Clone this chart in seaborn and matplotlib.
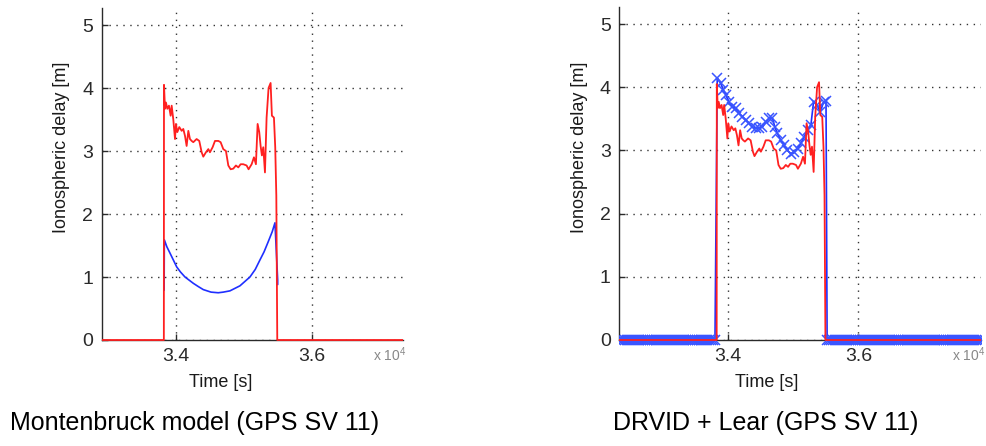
import numpy as np
import matplotlib
matplotlib.use("Agg")
import matplotlib.pyplot as plt
from matplotlib import font_manager
from matplotlib.patches import Rectangle
import seaborn as sns

# ---- GPS SV 11, slant ionospheric delay over one pass (time of day in s) ----
# measured delay (dual-frequency), zero outside the tracking window
measured_t = [32300, 33826, 33828, 33843, 33857, 33877, 33901, 33926, 33941, 33965,
              33990, 34004, 34024, 34053, 34088, 34112, 34137, 34161, 34186, 34210,
              34235, 34259, 34308, 34347, 34382, 34406, 34445, 34480, 34504, 34543,
              34578, 34627, 34661, 34700, 34739, 34774, 34808, 34847, 34886, 34921,
              34955, 34994, 35043, 35072, 35117, 35151, 35180, 35205, 35229, 35249,
              35268, 35288, 35313, 35337, 35366, 35396, 35415, 35445, 35464, 35480,
              35494, 37900]
measured_delay = [0.0, 0.0, 4.05, 3.67, 3.77, 3.67, 3.72, 3.56, 3.72, 3.50,
                  3.19, 3.43, 3.30, 3.38, 3.32, 3.35, 3.24, 3.08, 3.32, 3.19,
                  3.16, 3.14, 3.19, 3.16, 2.98, 2.91, 2.98, 3.03, 2.98, 3.06,
                  3.16, 3.16, 3.14, 3.03, 3.00, 2.77, 2.71, 2.72, 2.77, 2.74,
                  2.79, 2.79, 2.77, 2.71, 2.79, 2.90, 2.79, 3.43, 3.30, 3.08,
                  2.93, 3.06, 2.66, 3.53, 4.00, 4.08, 3.56, 3.53, 3.06, 2.29,
                  0.0, 0.0]

# Montenbruck broadcast-style model
model_t = [33830, 33833, 33870, 33916, 34015, 34070, 34137, 34259, 34330, 34406,
           34520, 34626, 34700, 34798, 34945, 35092, 35170, 35239, 35300, 35361,
           35420, 35460, 35500, 35500]
model_delay = [0.79, 1.59, 1.48, 1.38, 1.16, 1.08, 1.00, 0.90, 0.85, 0.80,
               0.76, 0.75, 0.76, 0.78, 0.86, 1.00, 1.12, 1.27, 1.40, 1.56,
               1.72, 1.86, 0.95, 0.88]

# DRVID + Lear estimate (30 s epochs outside the pass are zero)
drvid_before_t = list(range(32330, 33811, 30))
drvid_pass_t = [33835, 33888, 33928, 33965, 34015, 34066, 34118, 34169, 34220, 34272,
                34323, 34374, 34426, 34477, 34528, 34580, 34631, 34682, 34718, 34758,
                34810, 34861, 34912, 34964, 35015, 35066, 35118, 35169, 35220, 35272,
                35312, 35364, 35415, 35466, 35503]
drvid_pass_delay = [4.15, 4.06, 3.96, 3.88, 3.77, 3.69, 3.67, 3.59, 3.53, 3.48,
                    3.43, 3.37, 3.35, 3.36, 3.37, 3.45, 3.51, 3.51, 3.37, 3.27,
                    3.16, 3.08, 3.00, 2.95, 2.98, 3.03, 3.11, 3.22, 3.32, 3.41,
                    3.77, 3.72, 3.61, 3.77, 3.78]
drvid_after_t = list(range(35520, 37900, 30))
drvid_t = drvid_before_t + drvid_pass_t + drvid_after_t
drvid_delay = [0.0] * len(drvid_before_t) + drvid_pass_delay + [0.0] * len(drvid_after_t)

x_ticks = [34000, 36000]
x_tick_labels = ["3.4", "3.6"]
y_ticks = [0, 1, 2, 3, 4, 5]
captions = ["Montenbruck model (GPS SV 11)", "DRVID + Lear (GPS SV 11)"]

RED = "#ff2020"
BLUE = "#1f2fff"
MARK_BLUE = "#3a55ff"

sns.set_theme(style="white")
plt.rcParams["font.family"] = ["Liberation Sans", "DejaVu Sans"]
plt.rcParams["mathtext.fontset"] = "custom"
plt.rcParams["mathtext.rm"] = "Liberation Sans"


def has_font(name):
    try:
        font_manager.findfont(name, fallback_to_default=False)
        return True
    except Exception:
        return False


narrow = has_font("Liberation Sans Narrow")
cap_family = ["Liberation Sans Narrow", "Liberation Sans"] if narrow else ["Liberation Sans"]
cap_size = 21.5 if narrow else 18

W, H = 987, 446
fig = plt.figure(figsize=(W / 100, H / 100), dpi=100)
fig.patch.set_facecolor("white")


def px_axes(x0, x1, ytop, ybot):
    return fig.add_axes([x0 / W, (H - ybot) / H, (x1 - x0) / W, (ybot - ytop) / H])


ax_l = px_axes(101.7, 403, 8, 340)
ax_r = px_axes(619, 981, 7, 340)


def style(ax, xlim, xlab_x, ylab_x):
    ax.set_xlim(*xlim)
    ax.set_ylim(0, 5.27)
    ax.set_xticks(x_ticks)
    ax.set_xticklabels(x_tick_labels)
    ax.set_yticks(y_ticks)
    for s in ("top", "right"):
        ax.spines[s].set_visible(False)
    for s in ("left", "bottom"):
        ax.spines[s].set_color("#2a2a2a")
        ax.spines[s].set_linewidth(1.0)
    ax.tick_params(direction="in", length=4, width=1, colors="#2a2a2a",
                   labelsize=14, pad=6, left=True, bottom=True)
    ax.grid(True, linestyle=(0, (1, 4)), color="#333333", linewidth=1.0)
    ax.set_axisbelow(True)
    ax.set_xlabel("Time [s]", fontsize=13, color="#1a1a1a")
    ax.set_ylabel("Ionospheric delay [m]", fontsize=13, color="#1a1a1a")
    ax.xaxis.set_label_coords(xlab_x, -0.103)
    ax.yaxis.set_label_coords(ylab_x, 0.58)
    ax.text(1.012, -0.045, r"x 10$^{4}$", transform=ax.transAxes, ha="right",
            va="center", fontsize=10, color="#888888")


style(ax_l, (32912, 37343), 0.396, -0.105)
style(ax_r, (32328, 37880), 0.409, -0.087)

# left panel: model (blue) beneath measured delay (red)
sns.lineplot(x=model_t, y=model_delay, ax=ax_l, sort=False, estimator=None,
             color=BLUE, linewidth=1.2)
sns.lineplot(x=measured_t, y=measured_delay, ax=ax_l, sort=False, estimator=None,
             color=RED, linewidth=1.3)

# right panel: DRVID + Lear estimate (blue crosses) beneath measured delay
sns.lineplot(x=drvid_t, y=drvid_delay, ax=ax_r, sort=False, estimator=None,
             color=BLUE, linewidth=1.2, marker="x", markersize=7.5,
             markeredgewidth=1.1, markeredgecolor=MARK_BLUE)
sns.lineplot(x=measured_t, y=measured_delay, ax=ax_r, sort=False, estimator=None,
             color=RED, linewidth=1.3)

# let the traces sit on top of the x axis line instead of being cut at y=0
for ax in (ax_l, ax_r):
    clip = Rectangle((0, -0.04), 1, 1.04, transform=ax.transAxes,
                     facecolor="none", edgecolor="none")
    for ln in ax.lines:
        ln.set_zorder(3)
        ln.set_clip_path(clip)
    if ax.get_legend() is not None:
        ax.get_legend().remove()

fig.text(10 / W, (H - 423) / H, captions[0], fontsize=cap_size, family=cap_family,
         ha="left", va="center", color="black")
fig.text(613 / W, (H - 423) / H, captions[1], fontsize=cap_size, family=cap_family,
         ha="left", va="center", color="black")

fig.savefig("out.png", dpi=100, facecolor="white")
